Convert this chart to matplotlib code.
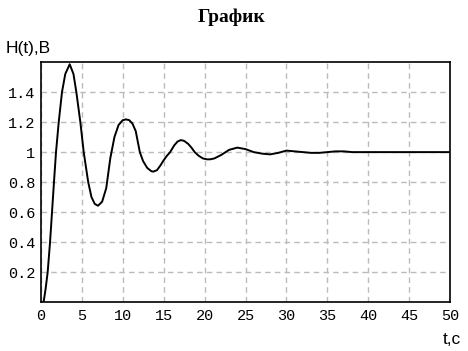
import matplotlib
matplotlib.use("Agg")
import matplotlib.pyplot as plt

t = [0, 0.35, 0.6, 0.85, 1.14, 1.38, 1.62, 1.87, 2.2, 2.6, 3.0, 3.54, 4.0, 4.35,
     4.84, 5.25, 5.8, 6.2, 6.6, 7.0, 7.5, 8.0, 8.5, 9.0, 9.5, 10.0, 10.4, 10.8,
     11.2, 11.6, 12.1, 12.5, 13.0, 13.5, 13.75, 14.2, 14.6, 15.0, 15.4, 15.8,
     16.3, 16.7, 17.1, 17.5, 18.0, 18.4, 18.8, 19.3, 19.8, 20.3, 20.7, 21.2, 22,
     23, 24, 25, 26, 27, 28, 29, 30, 31, 32, 33, 34, 35, 36, 37, 38, 40, 45, 50]
h = [0.0, 0.0, 0.09, 0.2, 0.4, 0.6, 0.8, 1.0, 1.2, 1.4, 1.52, 1.585, 1.52, 1.4,
     1.2, 1.0, 0.8, 0.7, 0.655, 0.643, 0.67, 0.76, 0.96, 1.1, 1.18, 1.212, 1.218,
     1.213, 1.19, 1.14, 1.0, 0.94, 0.895, 0.873, 0.87, 0.88, 0.91, 0.945, 0.975,
     1.0, 1.045, 1.07, 1.08, 1.075, 1.055, 1.03, 1.0, 0.975, 0.958, 0.952, 0.952,
     0.958, 0.98, 1.015, 1.03, 1.02, 1.0, 0.99, 0.985, 0.995, 1.01, 1.005, 1.0,
     0.995, 0.995, 1.0, 1.005, 1.005, 1.0, 1.0, 1.0, 1.0]

xticks = [0, 5, 10, 15, 20, 25, 30, 35, 40, 45, 50]
yticks = [0.2, 0.4, 0.6, 0.8, 1.0, 1.2, 1.4]
ytick_labels = ["0.2", "0.4", "0.6", "0.8", "1", "1.2", "1.4"]

W, H = 468, 351
fig = plt.figure(figsize=(W / 100, H / 100), dpi=100)
left, right, top, bottom = 40.7, 450.3, 62, 302.3
ax = fig.add_axes([left / W, (H - bottom) / H, (right - left) / W, (bottom - top) / H])

ax.plot(t, h, color="black", lw=1.4)
ax.set_xlim(0, 50)
ax.set_ylim(0, 1.6)
ax.set_xticks(xticks)
ax.set_yticks(yticks)
ax.set_yticklabels(ytick_labels)
ax.grid(True, color="#bbbbbb", linestyle=(0, (4, 3)), lw=1.0)
ax.tick_params(axis="y", length=0, pad=4, labelsize=11)
ax.tick_params(axis="x", length=0, pad=5, labelsize=11)
for lab in ax.get_xticklabels() + ax.get_yticklabels():
    lab.set_family("Liberation Mono")
for s in ax.spines.values():
    s.set_linewidth(1.2)
    s.set_color("black")

fig.text(232 / W, 1 - 17 / H, "График", ha="center", va="center",
         family="Liberation Serif", weight="bold", fontsize=14)
fig.text(6 / W, 1 - 48 / H, "H(t),B", ha="left", va="center",
         family="Liberation Sans", fontsize=12.5)
fig.text(461 / W, 1 - 339 / H, "t,c", ha="right", va="center",
         family="Liberation Sans", fontsize=12.5)

fig.savefig("out.png", dpi=100)
